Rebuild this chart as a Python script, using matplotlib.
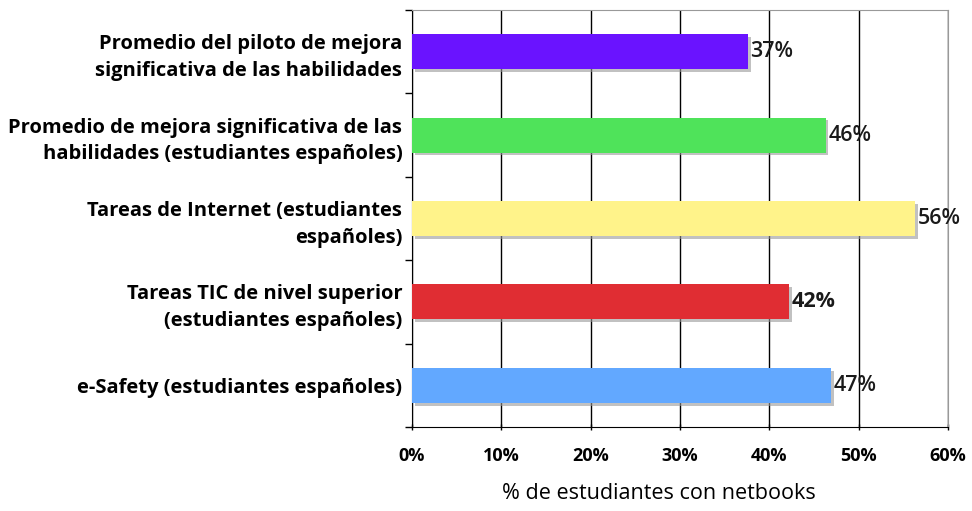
import matplotlib
matplotlib.use("Agg")
import matplotlib.pyplot as plt
import matplotlib.patheffects as pe
import numpy as np

categories = [
    "Promedio del piloto de mejora\nsignificativa de las habilidades",
    "Promedio de mejora significativa de las\nhabilidades (estudiantes españoles)",
    "Tareas de Internet (estudiantes\nespañoles)",
    "Tareas TIC de nivel superior\n(estudiantes españoles)",
    "e-Safety (estudiantes españoles)",
]
values = [37.6, 46.3, 56.3, 42.2, 46.9]
value_labels = ["37%", "46%", "56%", "42%", "47%"]
colors = ["#6A13FF", "#4FE35A", "#FFF38A", "#E02D33", "#62A8FF"]
xticks = [0, 10, 20, 30, 40, 50, 60]
xtick_labels = ["0%", "10%", "20%", "30%", "40%", "50%", "60%"]

plt.rcParams['font.family'] = ['Open Sans', 'DejaVu Sans']

fig = plt.figure(figsize=(9.72, 5.11), dpi=100)
ax = fig.add_axes([412/972, 1-427/511, 536/972, 417/511])

y = np.arange(len(categories))
bars = ax.barh(y, values, height=0.42, color=colors, zorder=3,
               path_effects=[pe.SimplePatchShadow(offset=(2, -2), shadow_rgbFace='#999999', alpha=0.6), pe.Normal()])

for i, (v, lab) in enumerate(zip(values, value_labels)):
    ax.text(v + 0.3, i, lab, va='center', ha='left', fontsize=15.5,
            fontweight='bold' if lab == "42%" else 'semibold', color='#1a1a1a', zorder=4)

ax.set_xlim(0, 60)
ax.set_ylim(len(categories) - 0.5, -0.5)
ax.set_xticks(xticks)
ax.set_xticklabels(xtick_labels, fontsize=13, fontweight='bold')
ax.set_yticks(y)
ax.set_yticklabels(categories, fontsize=14.5, fontweight='bold', linespacing=1.45)
ax.tick_params(axis='y', length=0, pad=7)
ax.set_yticks(np.arange(-0.5, len(categories), 1.0), minor=True)
ax.tick_params(axis='y', which='minor', length=5, width=1, direction='out', color='black')
ax.tick_params(axis='x', length=5, width=1, direction='inout', pad=12)

ax.grid(axis='x', color='black', linewidth=1, zorder=1)
ax.spines['left'].set_color('black')
ax.spines['bottom'].set_color('black')
ax.spines['top'].set_color('#999999')
ax.spines['right'].set_color('#999999')
ax.set_axisbelow(True)

ax.set_xlabel("% de estudiantes con netbooks", fontsize=15.5)
ax.xaxis.set_label_coords(0.461, -0.135)

fig.savefig("out.png", dpi=100)
